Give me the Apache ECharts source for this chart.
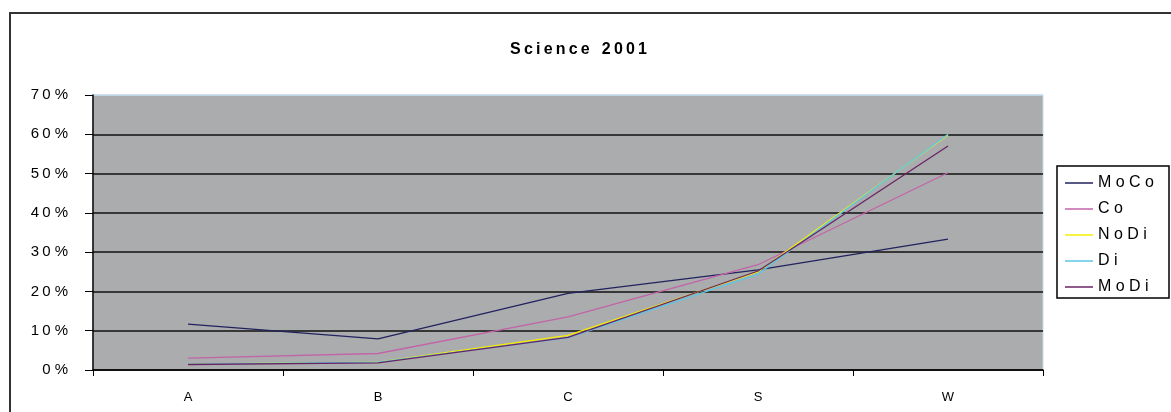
<!DOCTYPE html>
<html>
<head>
<meta charset="utf-8">
<script src="https://cdn.jsdelivr.net/npm/echarts@6/dist/echarts.min.js"></script>
<style>
  html, body { margin: 0; padding: 0; background: #fff; }
  #chart { width: 1171px; height: 412px; }
</style>
</head>
<body>
<div id="chart"></div>
<script>
// 数据
const categories = ['A', 'B', 'C', 'S', 'W'];
const moCo = [11.7, 7.9, 19.5, 25.5, 33.3];
const co = [3.0, 4.2, 13.5, 26.8, 50.2];
const noDi = [1.5, 2.0, 8.8, 25.0, 59.8];
const di = [1.5, 2.0, 8.2, 24.4, 60.0];
const moDi = [1.4, 1.8, 8.3, 25.2, 57.0];
const seriesNames = ['MoCo', 'Co', 'NoDi', 'Di', 'MoDi'];
const seriesColors = ['#22225e', '#c264a8', '#f2f000', '#5cc6e4', '#6a2464'];
const yTicks = [0, 10, 20, 30, 40, 50, 60, 70];

// 字母间距（原图文字比较稀疏）
const spaced = (s) => s.split('').join(' ');
const thin = (s) => s.split('').join('\u2009');

const chart = echarts.init(document.getElementById('chart'));

const allData = [moCo, co, noDi, di, moDi];

chart.setOption({
  animation: false,
  backgroundColor: '#fff',
  textStyle: { fontFamily: 'Liberation Sans, Arial, sans-serif' },
  title: {
    text: thin('Science') + ' \u2009 ' + thin('2001'),
    left: 505,
    top: 37,
    textStyle: { fontSize: 16, fontWeight: 'bold', color: '#000' },
  },
  graphic: [
    // 外框
    {
      type: 'rect',
      shape: { x: 10, y: 13, width: 1200, height: 450 },
      style: { fill: 'none', stroke: '#333', lineWidth: 2 },
      silent: true,
    },
    // 图例框（下边把最后一项截掉一点）
    {
      type: 'rect',
      z: 100,
      shape: { x: 1057, y: 299, width: 113, height: 14 },
      style: { fill: '#fff' },
      silent: true,
    },
    {
      type: 'rect',
      z: 101,
      shape: { x: 1057, y: 166, width: 112, height: 132 },
      style: { fill: 'none', stroke: '#000', lineWidth: 1.5 },
      silent: true,
    },
  ],
  legend: {
    orient: 'vertical',
    left: 1065,
    top: 175,
    padding: 0,
    itemGap: 10,
    itemWidth: 28,
    itemHeight: 14,
    icon: 'path://M0,6.5 L28,6.5 L28,8 L0,8 Z',
    data: seriesNames,
    formatter: (name) => spaced(name),
    textStyle: { fontSize: 16, color: '#000', padding: [0, 0, 0, 0] },
  },
  grid: {
    left: 93,
    right: 128,
    top: 95,
    bottom: 42,
    show: true,
    backgroundColor: '#abacae',
    borderColor: '#c4dcea',
    borderWidth: 1,
  },
  xAxis: {
    type: 'category',
    data: categories,
    boundaryGap: true,
    axisLine: { lineStyle: { color: '#000', width: 1.5 } },
    axisTick: { show: true, length: 6, inside: false, lineStyle: { color: '#000' } },
    axisLabel: { color: '#000', fontSize: 13, margin: 21 },
  },
  yAxis: {
    type: 'value',
    min: 0,
    max: 70,
    interval: 10,
    axisLine: { show: true, lineStyle: { color: '#000', width: 1.5 } },
    axisTick: { show: true, length: 8, lineStyle: { color: '#000' } },
    axisLabel: {
      color: '#000',
      fontSize: 15,
      margin: 25,
      formatter: (v) => (yTicks.includes(v) ? thin(String(v)) + ' %' : ''),
    },
    splitLine: {
      show: true,
      lineStyle: {
        color: ['#111', '#111', '#111', '#111', '#111', '#111', '#111', '#c4dcea'],
        width: 1.5,
      },
    },
  },
  series: seriesNames.map((name, i) => ({
    name: name,
    type: 'line',
    data: allData[i],
    symbol: 'none',
    color: seriesColors[i],
    lineStyle: { width: 1.3, color: seriesColors[i] },
  })),
});
</script>
</body>
</html>
